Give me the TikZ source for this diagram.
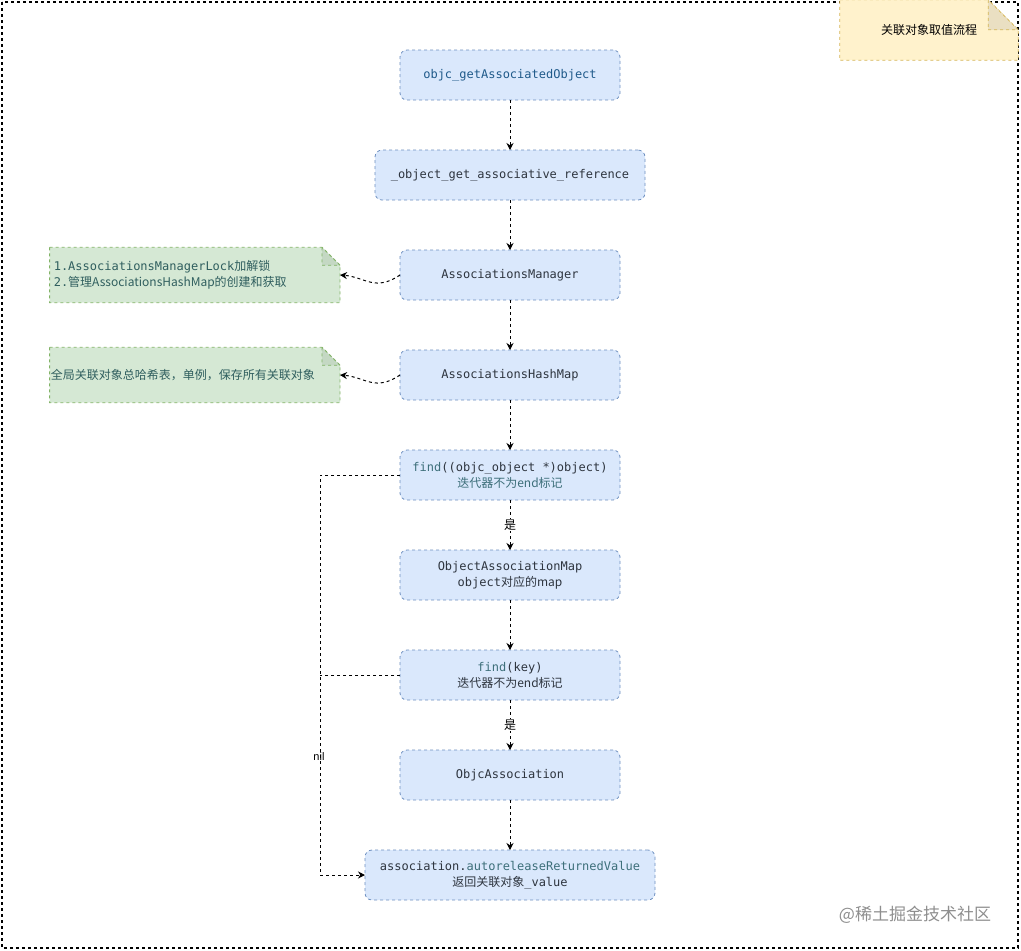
\documentclass[tikz,border=0pt]{standalone}
\usepackage{fontspec}
\setmainfont{Liberation Sans}
\setmonofont{DejaVu Sans Mono}
\newfontfamily\cjk{Noto Sans CJK SC}
\usetikzlibrary{arrows.meta,positioning,graphs}
\definecolor{boxfill}{HTML}{DAE8FC}
\definecolor{boxline}{HTML}{6C8EBF}
\definecolor{notefill}{HTML}{D5E8D4}
\definecolor{noteline}{HTML}{82B366}
\definecolor{notefold}{HTML}{C4D8C3}
\definecolor{memofill}{HTML}{FFF2CC}
\definecolor{memoline}{HTML}{D6B656}
\definecolor{memofold}{HTML}{EADFC2}
\definecolor{txtdark}{HTML}{2E353F}
\definecolor{codeblue}{HTML}{1F5A8A}
\definecolor{findteal}{HTML}{3D6F7A}
\definecolor{notetext}{HTML}{2F5E5E}
\definecolor{markgray}{HTML}{8E8E8E}
\pgfdeclarelayer{background}
\pgfsetlayers{background,main}

\begin{document}
\begin{tikzpicture}[x=1pt,y=1pt]
	\tikzstyle{every node}=[font=\fontsize{12}{15}\selectfont];
	\tikzstyle{box}=[draw=boxline,fill=boxfill,rectangle,rounded corners=7pt,dash pattern=on 3pt off 3pt,line width=0.8pt,align=center,minimum width=220pt,minimum height=50pt,inner sep=2pt,outer sep=0pt,text=txtdark,font=\ttfamily\fontsize{12}{16}\selectfont];
	\tikzstyle{note}=[rectangle,align=left,text width=282pt,inner xsep=4pt,minimum height=55pt,text=notetext,font=\ttfamily\fontsize{12}{16}\selectfont];
	\tikzstyle{pth}=[draw,dash pattern=on 3pt off 3pt,line width=1pt,-{Stealth[length=7pt,width=7pt]}];
	\tikzstyle{lbl}=[fill=white,inner sep=1pt,font=\cjk\fontsize{12}{15}\selectfont];
	\useasboundingbox (0,0) rectangle (1021,-951);
	\matrix (flow) [row sep=49.2pt] at (510,-475) {
		\node (og) [box] {\color{codeblue}objc\_getAssociatedObject}; \\
		\node (gr) [box,minimum width=270pt] {\_object\_get\_associative\_reference}; \\
		\node (am) [box] {AssociationsManager}; \\
		\node (hm) [box] {AssociationsHashMap}; \\
		\node (f1) [box] {{\color{findteal}find}((objc\_object *)object) \\ {\cjk\color{findteal}迭代器不为end标记}}; \\
		\node (oam) [box] {ObjectAssociationMap \\ object{\cjk 对应的map}}; \\
		\node (f2) [box] {{\color{findteal}find}(key) \\ {\cjk 迭代器不为end标记}}; \\
		\node (oa) [box] {ObjcAssociation}; \\
		\node (res) [box,minimum width=290pt] {association.{\color{findteal}autoreleaseReturnedValue} \\ {\cjk 返回关联对象}\_value}; \\
	};
	\node (n1) [note,left=60pt of am] {1.AssociationsManagerLock{\cjk 加解锁} \\ 2.{\cjk 管理AssociationsHashMap的创建和获取}};
	\node (n2) [note,left=60pt of hm,inner xsep=1pt,text width=288pt] {{\cjk 全局关联对象总哈希表，单例，保存所有关联对象}};
	\node (memo) [font=\cjk\fontsize{12}{15}\selectfont,minimum width=178pt,minimum height=60pt] at (929,-30) {关联对象取值流程};
	\node (mark) [font=\cjk\fontsize{17}{19}\selectfont,text=markgray] at (915,-915) {@稀土掘金技术社区};
	\node (nil) [font=\fontsize{11}{13}\selectfont] at (319,-757) {nil};
	\begin{pgfonlayer}{background}
		\draw[dash pattern=on 3pt off 3pt,line width=1.2pt] (2,-2) rectangle (1018,-948);
		\foreach \n in {n1,n2} {
			\filldraw[draw=noteline,fill=notefill,dash pattern=on 3pt off 3pt,line width=0.8pt] (\n.north west) -- ([xshift=-18pt]\n.north east) -- ([yshift=-18pt]\n.north east) -- (\n.south east) -- (\n.south west) -- cycle;
			\filldraw[draw=noteline,fill=notefold,dash pattern=on 3pt off 3pt,line width=0.8pt] ([xshift=-18pt]\n.north east) -- ([xshift=-18pt,yshift=-18pt]\n.north east) -- ([yshift=-18pt]\n.north east) -- cycle;
		}
		\filldraw[draw=memoline,fill=memofill,dash pattern=on 3pt off 3pt,line width=0.8pt] (memo.north west) -- ([xshift=-30pt]memo.north east) -- ([yshift=-30pt]memo.north east) -- (memo.south east) -- (memo.south west) -- cycle;
		\filldraw[draw=memoline,fill=memofold,dash pattern=on 3pt off 3pt,line width=0.8pt] ([xshift=-30pt]memo.north east) -- ([xshift=-30pt,yshift=-30pt]memo.north east) -- ([yshift=-30pt]memo.north east) -- cycle;
	\end{pgfonlayer}
	\graph [use existing nodes,edges=pth]{
		og -> gr -> am -> hm -> f1 -> [edge node={node[lbl]{是}}] oam -> f2 -> [edge node={node[lbl]{是}}] oa -> res;
	};
	\draw[pth] (am.west) .. controls (375,-292) and (365,-277) .. (n1.east);
	\draw[pth] (hm.west) .. controls (375,-392) and (365,-377) .. (n2.east);
	\draw[pth] (f1.west) -- ++(-80,0) coordinate (lp) |- (res.west);
	\draw[pth,-] (f2.west) -- (f2.west -| lp);
\end{tikzpicture}
\end{document}
